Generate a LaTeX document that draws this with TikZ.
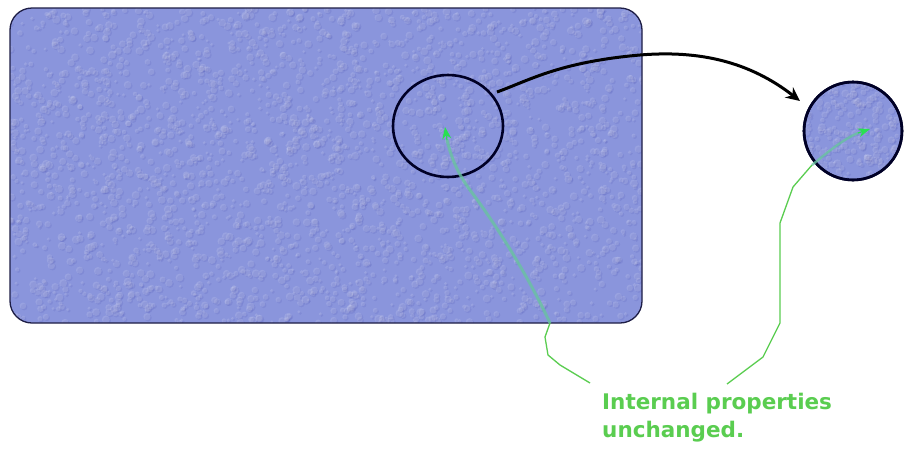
\documentclass[tikz,border=0pt]{standalone}
\usepackage{fontspec}
\newfontfamily\notefont{DejaVu Sans}
\usetikzlibrary{arrows.meta,shapes.geometric}
\definecolor{panel}{RGB}{138,149,220}
\definecolor{edge}{RGB}{30,30,70}
\definecolor{note}{RGB}{90,205,80}
\definecolor{leader}{RGB}{105,195,160}
\definecolor{tip}{RGB}{40,225,80}
\tikzset{
  panelshape/.style={fill=panel, draw=none},
  ring/.style={draw=black!85!blue, line width=2.6pt},
  bigarrow/.style={draw=black, line width=3pt, -{Stealth[length=14pt,width=13pt]}},
  greenline/.style={draw=note, line width=1.3pt, line join=round},
  innerline/.style={draw=leader, draw opacity=0.8, line join=round},
  greenhead/.style={draw=tip, line width=1.2pt, -{Stealth[length=12pt,width=9pt,fill=tip]}},
  notetext/.style={text=note, font=\notefont\bfseries\fontsize{21.5}{28}\selectfont, align=left, anchor=north west, inner sep=0pt}
}
\begin{document}
\begin{tikzpicture}[x=1pt,y=-1pt]
\useasboundingbox (0,0) rectangle (905,456);
\fill[white] (0,0) rectangle (905,456);
% main panel
\path[panelshape, rounded corners=22pt] (10,8) rectangle (642,323);
\begin{scope}
  \clip[rounded corners=22pt] (10,8) rectangle (642,323);
  \pgfmathsetseed{7}
  \foreach \i in {1,...,2600} {
    \pgfmathsetmacro{\px}{10+632*rnd}
    \pgfmathsetmacro{\py}{8+315*rnd}
    \pgfmathsetmacro{\rr}{1.5+2.5*rnd}
    \fill[black!50!blue, opacity=0.07] (\px+1.2,\py+1.2) circle (\rr);
    \fill[white, opacity=0.13] (\px,\py) circle (\rr);
  }
\end{scope}
\draw[edge, line width=1.3pt, rounded corners=22pt] (10,8) rectangle (642,323);
% rings
\node[ring, ellipse, minimum width=110pt, minimum height=102pt, inner sep=0pt, draw] (big) at (448,126) {};
\node[ring, circle, fill=panel, minimum size=98pt, inner sep=0pt, draw] (small) at (853,131) {};
\begin{scope}
  \clip (853,131) circle (47);
  \pgfmathsetseed{11}
  \foreach \i in {1,...,220} {
    \pgfmathsetmacro{\px}{805+96*rnd}
    \pgfmathsetmacro{\py}{83+96*rnd}
    \pgfmathsetmacro{\rr}{1.5+2.5*rnd}
    \fill[black!50!blue, opacity=0.07] (\px+1.2,\py+1.2) circle (\rr);
    \fill[white, opacity=0.13] (\px,\py) circle (\rr);
  }
\end{scope}
\node[ring, circle, minimum size=98pt, inner sep=0pt, draw] at (small.center) {};
% black arrow
\coordinate (a0) at (497,92);
\coordinate (a1) at (800,101);
\draw[bigarrow] (a0) .. controls (530,80) and (560,62) .. (640,55)
  .. controls (700,50) and (750,62) .. (a1);
% note text
\node[notetext] (txt) at (602,393) {Internal properties\\unchanged.};
% green leaders
\coordinate (l0) at (590,383);
\coordinate (r0) at (727,384);
\coordinate (lt) at (445,127);
\coordinate (rt) at (870,129);
\draw[greenline] (l0) -- (560,365) -- (548,355) -- (545,337) -- (550,323);
\draw[innerline, line width=3pt] (550,323) .. controls (530,280) and (500,230) .. (470,190) .. controls (455,170) and (450,152) .. (447,140);
\draw[greenhead] (447,140) -- (lt);
\draw[greenline] (r0) -- (763,357) -- (780,323) -- (780,223) -- (793,187) -- (812,165);
\draw[innerline, line width=2.4pt] (812,165) .. controls (828,152) and (842,140) .. (858,133);
\draw[greenhead] (858,133) -- (rt);
\end{tikzpicture}
\end{document}
